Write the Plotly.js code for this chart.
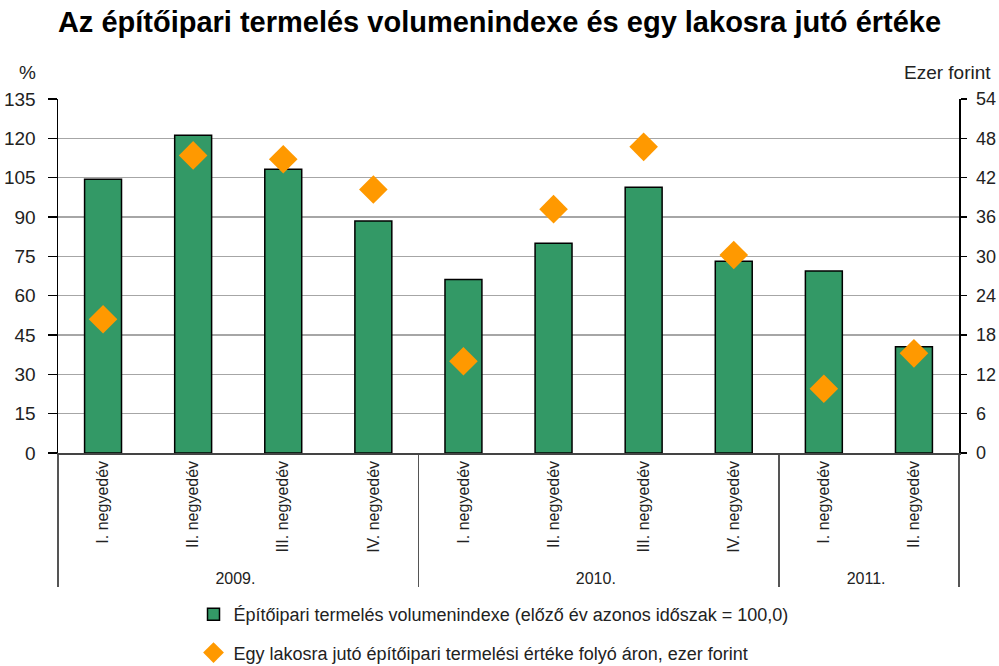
<!DOCTYPE html>
<html>
<head>
<meta charset="utf-8">
<script src="https://cdn.plot.ly/plotly-3.0.1.min.js"></script>
<style>
    body { margin: 0; background: #ffffff; }
    #chart { width: 999px; height: 666px; }
</style>
</head>
<body>
<div id="chart"></div>
<script>
//categories: years and quarters (two level x axis)
let years = ['2009.', '2009.', '2009.', '2009.', '2010.', '2010.', '2010.', '2010.', '2011.', '2011.'];
let quarters = ['I. negyedév', 'II. negyedév', 'III. negyedév', 'IV. negyedév',
    'I. negyedév', 'II. negyedév', 'III. negyedév', 'IV. negyedév',
    'I. negyedév', 'II. negyedév'];

//volume index, previous year same period = 100 (left axis, %)
let volumeIndex = [104.4, 121.2, 108.2, 88.5, 66.2, 80.0, 101.3, 73.1, 69.4, 40.5];

//value per inhabitant, thousand forint (right axis)
let perCapita = [20.4, 45.4, 44.8, 40.2, 14.0, 37.2, 46.7, 30.2, 9.8, 15.2];

let leftTicks = [0, 15, 30, 45, 60, 75, 90, 105, 120, 135];
let rightTicks = [0, 6, 12, 18, 24, 30, 36, 42, 48, 54];

let fontFamily = '"Liberation Sans", Arial, sans-serif';

function buildChart() {
    let graphData = [];

    let bars = {
        x: [years, quarters],
        y: volumeIndex,
        name: 'Építőipari termelés volumenindexe (előző év azonos időszak = 100,0)',
        type: 'bar',
        legendgroup: 'a',
        marker: {
            color: '#339966',
            line: {color: '#000000', width: 1.5}
        },
        hoverinfo: 'skip'
    };
    graphData.push(bars);

    let diamonds = {
        x: [years, quarters],
        y: perCapita,
        yaxis: 'y2',
        name: 'Egy lakosra jutó építőipari termelési értéke folyó áron, ezer forint',
        type: 'scatter',
        mode: 'markers',
        legendgroup: 'b',
        marker: {
            symbol: 'diamond',
            size: 22,
            color: '#FF9900'
        },
        hoverinfo: 'skip'
    };
    graphData.push(diamonds);

    let layout = {
        width: 999,
        height: 666,
        paper_bgcolor: '#ffffff',
        plot_bgcolor: '#ffffff',
        font: {family: fontFamily, size: 17, color: '#222222'},
        title: {
            text: '<b>Az építőipari termelés volumenindexe és egy lakosra jutó értéke</b>',
            font: {family: fontFamily, size: 29, color: '#000000'},
            x: 0.5,
            xanchor: 'center',
            y: 0.967,
            yanchor: 'middle'
        },
        margin: {l: 58, r: 40, t: 99, b: 213, autoexpand: false},
        bargap: 0.59,
        showlegend: true,
        legend: {
            x: 0.1504,
            xanchor: 'left',
            y: -0.404,
            yanchor: 'top',
            orientation: 'v',
            tracegroupgap: 12,
            font: {family: fontFamily, size: 18, color: '#222222'}
        },
        xaxis: {
            type: 'multicategory',
            range: [-0.5, 9.5],
            showline: true,
            linecolor: '#444444',
            linewidth: 1.5,
            ticks: '',
            tickangle: -90,
            tickfont: {family: fontFamily, size: 16, color: '#222222'},
            showdividers: true,
            dividercolor: '#555555',
            dividerwidth: 1.5,
            showgrid: false
        },
        yaxis: {
            range: [0, 135],
            tickvals: leftTicks,
            ticks: 'outside',
            ticklen: 9,
            tickwidth: 1.5,
            tickcolor: '#000000',
            ticklabelstandoff: 8,
            showline: true,
            linecolor: '#000000',
            linewidth: 1.5,
            showgrid: true,
            gridcolor: '#a6a6a6',
            gridwidth: 1.5,
            zeroline: false,
            tickfont: {family: fontFamily, size: 19, color: '#222222'}
        },
        yaxis2: {
            range: [0, 54],
            tickvals: rightTicks,
            overlaying: 'y',
            side: 'right',
            ticks: 'outside',
            ticklen: 6,
            tickwidth: 1.5,
            tickcolor: '#000000',
            ticklabelstandoff: 6,
            showline: true,
            linecolor: '#000000',
            linewidth: 1.5,
            showgrid: false,
            zeroline: false,
            tickfont: {family: fontFamily, size: 18, color: '#222222'}
        },
        annotations: [
            {
                text: '%',
                xref: 'paper', yref: 'paper',
                x: -0.034, y: 1.075,
                xanchor: 'center', yanchor: 'middle',
                showarrow: false,
                font: {family: fontFamily, size: 19, color: '#222222'}
            },
            {
                text: 'Ezer forint',
                xref: 'paper', yref: 'paper',
                x: 1.038, y: 1.075,
                xanchor: 'right', yanchor: 'middle',
                showarrow: false,
                font: {family: fontFamily, size: 19, color: '#222222'}
            }
        ]
    };

    let options = {
        responsive: false,
        displayModeBar: false,
        staticPlot: true
    };

    Plotly.newPlot('chart', graphData, layout, options);
}

buildChart();
</script>
</body>
</html>
